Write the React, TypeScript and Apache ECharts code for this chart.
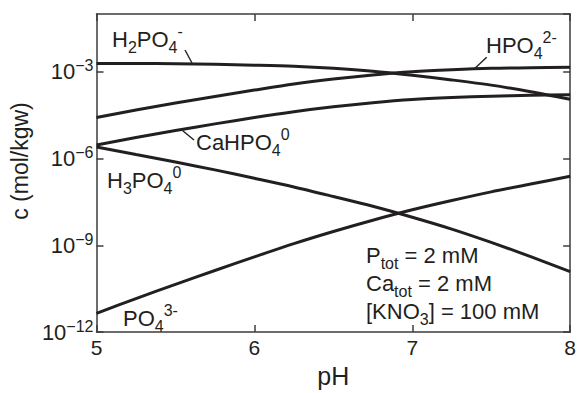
import React, { useEffect, useRef } from 'react';
import * as echarts from 'echarts';

// pH grid and log10 concentrations (mol/kgw)
const pH = [5, 5.25, 5.5, 5.75, 6, 6.25, 6.5, 6.75, 7, 7.25, 7.5, 7.75, 8];
const logH2PO4 = [-2.71, -2.71, -2.72, -2.74, -2.77, -2.81, -2.88, -2.98, -3.12, -3.28, -3.46, -3.69, -3.95];
const logHPO4 = [-4.58, -4.32, -4.08, -3.85, -3.63, -3.42, -3.25, -3.11, -3.0, -2.93, -2.88, -2.86, -2.84];
const logCaHPO4 = [-5.53, -5.27, -5.03, -4.8, -4.58, -4.38, -4.21, -4.07, -3.96, -3.89, -3.84, -3.81, -3.79];
const logH3PO4 = [-5.6, -5.86, -6.12, -6.39, -6.68, -6.98, -7.31, -7.65, -8.03, -8.44, -8.9, -9.39, -9.91];
const logPO4 = [-11.35, -10.84, -10.35, -9.87, -9.4, -8.94, -8.52, -8.13, -7.77, -7.45, -7.15, -6.88, -6.61];

const yTickExponents = [-12, -9, -6, -3];
const xTicks = [5, 6, 7, 8];

const FONT = '"Liberation Sans", Arial, Helvetica, sans-serif';
const INK = '#231f20';
const AXIS = '#3c3c3c';

const richStyles = {
  m: { fontSize: 22, lineHeight: 32, fontFamily: FONT, fill: INK },
  s: { fontSize: 16, lineHeight: 21, verticalAlign: 'bottom', fontFamily: FONT, fill: INK },
  p: { fontSize: 16, lineHeight: 24, verticalAlign: 'top', fontFamily: FONT, fill: INK },
};

function label(text: string, x: number, y: number) {
  return {
    type: 'text',
    x,
    y,
    silent: true,
    style: {
      text,
      rich: richStyles,
      fill: INK,
      font: `22px ${FONT}`,
      align: 'left',
      verticalAlign: 'top',
    },
  };
}

function leader(x1: number, y1: number, x2: number, y2: number) {
  return {
    type: 'line',
    silent: true,
    shape: { x1, y1, x2, y2 },
    style: { stroke: INK, lineWidth: 1.4 },
  };
}

export default function App() {
  const ref = useRef<HTMLDivElement>(null);

  useEffect(() => {
    const chart = echarts.init(ref.current!, null, { renderer: 'svg' });
    const mk = (name: string, vals: number[]) => ({
      name,
      type: 'line',
      data: pH.map((x, i) => [x, vals[i]]),
      showSymbol: false,
      symbol: 'none',
      smooth: 0.3,
      lineStyle: { color: INK, width: 3 },
      silent: true,
    });

    const axisCommon = {
      axisLine: { show: true, lineStyle: { color: AXIS, width: 1.5 } },
      axisTick: { show: true, inside: true, length: 7, lineStyle: { color: AXIS, width: 1.5 } },
      splitLine: { show: false },
    };

    chart.setOption({
      animation: false,
      backgroundColor: '#ffffff',
      grid: { left: 95, right: 4, top: 14, bottom: 59, containLabel: false },
      xAxis: [
        {
          type: 'value',
          min: 5,
          max: 8,
          interval: 1,
          position: 'bottom',
          name: 'pH',
          nameLocation: 'middle',
          nameGap: 30,
          nameTextStyle: { fontSize: 25, fontFamily: FONT, color: INK },
          ...axisCommon,
          axisLabel: {
            show: true,
            margin: 5,
            fontSize: 21,
            fontFamily: FONT,
            color: INK,
            formatter: (v: number) => (xTicks.includes(v) ? String(v) : ''),
          },
        },
        {
          type: 'value',
          min: 5,
          max: 8,
          interval: 1,
          position: 'top',
          ...axisCommon,
          axisLabel: { show: false },
        },
      ],
      yAxis: [
        {
          type: 'value',
          min: -12,
          max: -1,
          interval: 3,
          position: 'left',
          name: 'c (mol/kgw)',
          nameLocation: 'middle',
          nameGap: 60,
          nameTextStyle: { fontSize: 23, fontFamily: FONT, color: INK, padding: [0, 0, 0, 24] },
          ...axisCommon,
          axisLabel: {
            show: true,
            margin: 3,
            showMaxLabel: false,
            formatter: (v: number) =>
              yTickExponents.includes(v) ? `{b|10}{s|\u2212${-v}}` : '',
            rich: {
              b: { fontSize: 22, lineHeight: 28, fontFamily: FONT, color: INK },
              s: { fontSize: 16, lineHeight: 16, verticalAlign: 'top', fontFamily: FONT, color: INK },
            },
          },
        },
        {
          type: 'value',
          min: -12,
          max: -1,
          interval: 3,
          position: 'right',
          ...axisCommon,
          axisLabel: { show: false },
        },
      ],
      series: [
        mk('H2PO4-', logH2PO4),
        mk('HPO4 2-', logHPO4),
        mk('CaHPO4 0', logCaHPO4),
        mk('H3PO4 0', logH3PO4),
        mk('PO4 3-', logPO4),
      ],
      graphic: [
        label('{m|H}{s|2}{m|PO}{s|4}{p|-}', 112, 23.5),
        leader(185, 50, 192, 63),
        label('{m|HPO}{s|4}{p|2-}', 486, 29.5),
        leader(486.7, 57.3, 475, 68.3),
        label('{m|CaHPO}{s|4}{p|0}', 196, 126.5),
        leader(194, 140, 182.7, 130.7),
        label('{m|H}{s|3}{m|PO}{s|4}{p|0}', 107, 164.5),
        label('{m|PO}{s|4}{p|3-}', 123, 302.5),
        label('{m|P}{s|tot}{m| = 2 mM}', 366, 239.5),
        label('{m|Ca}{s|tot}{m| = 2 mM}', 366, 267.5),
        label('{m|[KNO}{s|3}{m|] = 100 mM}', 366, 295.5),
      ],
    });

    return () => chart.dispose();
  }, []);

  return (
    <div
      ref={ref}
      style={{ position: 'fixed', left: 0, top: 0, width: 579, height: 393, background: '#fff' }}
    />
  );
}
